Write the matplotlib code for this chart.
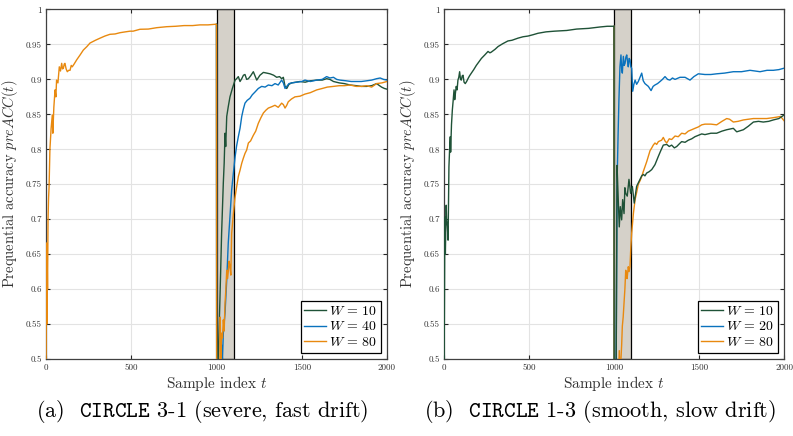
import numpy as np
import matplotlib
matplotlib.use("Agg")
import matplotlib.pyplot as plt
from matplotlib.ticker import FixedLocator, FuncFormatter

# computer modern look
plt.rcParams['font.family'] = 'cmr10'
plt.rcParams['mathtext.fontset'] = 'cm'
plt.rcParams['axes.formatter.use_mathtext'] = True

# ---- data ----
# (a) CIRCLE 3-1 : shared curve before the drift
t_pre_a = [0, 3, 5, 7, 9, 12, 15, 18, 23, 30, 37, 40, 46, 53, 58, 62, 70, 78, 85, 92, 97, 102, 107, 111,
           118, 125, 133, 141, 148, 154, 165, 180, 200, 219, 240, 258, 290, 317, 345, 375, 405, 434, 465,
           493, 511, 551, 600, 650, 708, 760, 810, 860, 903, 950, 1000]
acc_pre_a = [0.45, 0.666, 0.55, 0.64, 0.60, 0.70, 0.73, 0.746, 0.80, 0.83, 0.849, 0.823, 0.86, 0.885, 0.875,
             0.899, 0.895, 0.918, 0.912, 0.923, 0.915, 0.916, 0.922, 0.923, 0.915, 0.911, 0.913, 0.913, 0.92,
             0.918, 0.922, 0.928, 0.935, 0.942, 0.947, 0.952, 0.956, 0.959, 0.962, 0.9645, 0.965, 0.9668,
             0.968, 0.969, 0.969, 0.9717, 0.972, 0.974, 0.9754, 0.976, 0.977, 0.977, 0.978, 0.978, 0.979]

t_a_w10 = [1001, 1010, 1020, 1030, 1040, 1045, 1050, 1054, 1060, 1069, 1079, 1093, 1109, 1118, 1128, 1138,
           1148, 1158, 1167, 1177, 1187, 1200, 1216, 1226, 1236, 1255, 1275, 1295, 1314, 1335, 1353, 1370,
           1382, 1392, 1402, 1412, 1425, 1441, 1465, 1490, 1520, 1550, 1588, 1620, 1646, 1665, 1686, 1720,
           1750, 1783, 1820, 1850, 1881, 1910, 1939, 1968, 1985, 2000]
acc_a_w10 = [0.45, 0.50, 0.584, 0.68, 0.752, 0.78, 0.823, 0.804, 0.847, 0.861, 0.875, 0.887, 0.899, 0.901,
             0.904, 0.897, 0.901, 0.906, 0.907, 0.900, 0.901, 0.905, 0.911, 0.905, 0.899, 0.906, 0.910, 0.909,
             0.908, 0.906, 0.903, 0.904, 0.901, 0.903, 0.890, 0.887, 0.893, 0.895, 0.896, 0.897, 0.896, 0.898,
             0.899, 0.899, 0.901, 0.900, 0.897, 0.895, 0.894, 0.892, 0.891, 0.890, 0.890, 0.891, 0.894, 0.889,
             0.887, 0.886]

t_a_w40 = [1001, 1025, 1030, 1035, 1040, 1050, 1060, 1069, 1079, 1089, 1099, 1109, 1118, 1128, 1138, 1148,
           1157, 1167, 1180, 1196, 1210, 1226, 1245, 1265, 1285, 1304, 1325, 1343, 1362, 1382, 1392, 1402,
           1412, 1425, 1441, 1470, 1500, 1519, 1550, 1588, 1620, 1646, 1665, 1686, 1705, 1724, 1760, 1790,
           1822, 1850, 1881, 1910, 1939, 1960, 1980, 2000]
acc_a_w40 = [0.45, 0.45, 0.52, 0.50, 0.537, 0.566, 0.613, 0.666, 0.704, 0.742, 0.766, 0.789, 0.805, 0.818,
             0.830, 0.847, 0.857, 0.866, 0.870, 0.873, 0.878, 0.882, 0.887, 0.890, 0.889, 0.892, 0.891, 0.894,
             0.892, 0.899, 0.895, 0.887, 0.890, 0.894, 0.895, 0.896, 0.897, 0.899, 0.897, 0.899, 0.900, 0.904,
             0.902, 0.903, 0.900, 0.899, 0.898, 0.897, 0.897, 0.897, 0.898, 0.899, 0.901, 0.902, 0.900, 0.899]

t_a_w80 = [1001, 1015, 1020, 1022, 1025, 1030, 1035, 1040, 1045, 1050, 1055, 1060, 1065, 1069, 1074, 1079,
           1084, 1089, 1099, 1108, 1118, 1128, 1138, 1148, 1157, 1167, 1177, 1187, 1200, 1216, 1230, 1245,
           1260, 1275, 1290, 1304, 1325, 1343, 1362, 1382, 1392, 1402, 1412, 1421, 1440, 1460, 1490, 1519,
           1550, 1588, 1620, 1650, 1686, 1720, 1750, 1783, 1820, 1850, 1881, 1910, 1939, 1970, 2000]
acc_a_w80 = [0.45, 0.45, 0.50, 0.56, 0.50, 0.537, 0.53, 0.556, 0.54, 0.58, 0.60, 0.627, 0.615, 0.625, 0.640,
             0.632, 0.62, 0.68, 0.708, 0.730, 0.746, 0.761, 0.770, 0.780, 0.787, 0.794, 0.799, 0.809, 0.812,
             0.820, 0.826, 0.837, 0.845, 0.852, 0.856, 0.859, 0.861, 0.863, 0.860, 0.866, 0.864, 0.859, 0.863,
             0.868, 0.872, 0.875, 0.876, 0.879, 0.881, 0.885, 0.887, 0.889, 0.890, 0.891, 0.891, 0.892, 0.890,
             0.890, 0.891, 0.889, 0.894, 0.895, 0.897]

# (b) CIRCLE 1-3 : shared curve before the drift
t_pre_b = [0, 3, 5, 8, 10, 13, 15, 20, 24, 29, 33, 37, 39, 44, 49, 54, 59, 63, 68, 72, 77, 82, 87, 92, 97,
           102, 107, 112, 118, 125, 133, 141, 150, 161, 175, 190, 205, 220, 240, 259, 270, 278, 300, 318,
           345, 376, 400, 435, 465, 494, 525, 553, 600, 650, 722, 780, 850, 918, 960, 1000]
acc_pre_b = [0.45, 0.60, 0.703, 0.65, 0.68, 0.72, 0.70, 0.69, 0.670, 0.775, 0.80, 0.818, 0.796, 0.835, 0.856,
             0.870, 0.885, 0.871, 0.882, 0.890, 0.885, 0.899, 0.903, 0.911, 0.900, 0.899, 0.905, 0.906, 0.896,
             0.894, 0.897, 0.901, 0.905, 0.909, 0.914, 0.920, 0.925, 0.930, 0.935, 0.940, 0.938, 0.939, 0.943,
             0.947, 0.951, 0.955, 0.956, 0.959, 0.961, 0.962, 0.964, 0.966, 0.968, 0.969, 0.970, 0.972, 0.973,
             0.975, 0.976, 0.976]

t_b_w10 = [1001, 1012, 1018, 1025, 1031, 1037, 1045, 1051, 1059, 1064, 1069, 1078, 1088, 1098, 1108, 1119,
           1126, 1133, 1143, 1153, 1163, 1173, 1182, 1192, 1207, 1222, 1241, 1261, 1275, 1290, 1310, 1325,
           1339, 1355, 1369, 1385, 1398, 1418, 1437, 1457, 1476, 1496, 1516, 1535, 1570, 1604, 1635, 1663,
           1702, 1722, 1761, 1790, 1820, 1850, 1878, 1910, 1937, 1970, 2000]
acc_b_w10 = [0.45, 0.45, 0.777, 0.728, 0.689, 0.718, 0.699, 0.728, 0.708, 0.745, 0.737, 0.733, 0.757, 0.737,
             0.747, 0.723, 0.735, 0.747, 0.752, 0.757, 0.762, 0.764, 0.762, 0.766, 0.768, 0.771, 0.778, 0.790,
             0.798, 0.806, 0.807, 0.804, 0.806, 0.802, 0.804, 0.808, 0.811, 0.810, 0.813, 0.815, 0.818, 0.820,
             0.822, 0.821, 0.823, 0.823, 0.826, 0.828, 0.830, 0.825, 0.828, 0.833, 0.839, 0.840, 0.839, 0.840,
             0.842, 0.844, 0.849]

t_b_w20 = [1001, 1012, 1018, 1024, 1029, 1035, 1041, 1045, 1049, 1055, 1060, 1065, 1070, 1075, 1080, 1084,
           1089, 1094, 1099, 1104, 1110, 1117, 1124, 1133, 1143, 1153, 1163, 1172, 1182, 1192, 1202, 1210,
           1218, 1230, 1241, 1256, 1271, 1285, 1300, 1315, 1329, 1344, 1359, 1388, 1418, 1447, 1470, 1496,
           1535, 1570, 1604, 1650, 1702, 1750, 1800, 1830, 1859, 1900, 1937, 1970, 2000]
acc_b_w20 = [0.45, 0.45, 0.751, 0.82, 0.871, 0.918, 0.935, 0.915, 0.909, 0.933, 0.920, 0.923, 0.932, 0.935,
             0.925, 0.918, 0.930, 0.928, 0.918, 0.916, 0.883, 0.893, 0.899, 0.893, 0.897, 0.903, 0.909, 0.898,
             0.894, 0.892, 0.890, 0.887, 0.884, 0.890, 0.892, 0.894, 0.897, 0.900, 0.904, 0.900, 0.899, 0.902,
             0.900, 0.903, 0.903, 0.899, 0.904, 0.908, 0.907, 0.907, 0.908, 0.909, 0.911, 0.911, 0.913, 0.912,
             0.911, 0.913, 0.913, 0.914, 0.916]

t_b_w80 = [1001, 1025, 1031, 1036, 1041, 1045, 1049, 1054, 1059, 1064, 1069, 1073, 1077, 1084, 1089, 1094,
           1099, 1104, 1114, 1124, 1133, 1143, 1153, 1163, 1172, 1182, 1192, 1202, 1212, 1222, 1231, 1241,
           1251, 1261, 1270, 1280, 1290, 1300, 1310, 1325, 1339, 1359, 1378, 1398, 1418, 1437, 1457, 1476,
           1496, 1516, 1535, 1570, 1604, 1635, 1663, 1680, 1702, 1730, 1761, 1790, 1820, 1860, 1898, 1930,
           1957, 1980, 2000]
acc_b_w80 = [0.45, 0.45, 0.512, 0.47, 0.50, 0.52, 0.547, 0.56, 0.58, 0.60, 0.627, 0.62, 0.615, 0.632, 0.625,
             0.632, 0.66, 0.680, 0.708, 0.728, 0.738, 0.750, 0.755, 0.761, 0.768, 0.775, 0.782, 0.790, 0.798,
             0.802, 0.806, 0.809, 0.807, 0.811, 0.812, 0.813, 0.817, 0.812, 0.809, 0.815, 0.814, 0.819, 0.818,
             0.823, 0.822, 0.826, 0.828, 0.830, 0.832, 0.835, 0.836, 0.836, 0.835, 0.840, 0.844, 0.843, 0.839,
             0.840, 0.842, 0.843, 0.844, 0.844, 0.844, 0.845, 0.846, 0.847, 0.841]

drift_start = 1000
drift_end = 1100
x_ticks = [0, 500, 1000, 1500, 2000]
y_ticks = [0.5, 0.55, 0.6, 0.65, 0.7, 0.75, 0.8, 0.85, 0.9, 0.95, 1.0]

green = '#1f5237'
blue = '#0a72bd'
orange = '#e8890f'


def draw_panel(ax, t_pre, acc_pre, series, top):
    # grey band for the drift window
    ax.axvspan(drift_start, drift_end, facecolor='#d5d1c9', edgecolor='black', lw=0.9, zorder=1)
    # before the drift all runs coincide -> only the top one shows
    for i, (t_post, acc_post, color, label) in enumerate(series):
        if i == top:
            t = np.concatenate([t_pre, t_post])
            acc = np.concatenate([acc_pre, acc_post])
            z = 4
        else:
            t = np.concatenate([t_pre[-1:], t_post])
            acc = np.concatenate([acc_pre[-1:], acc_post])
            z = 3
        ax.plot(t, acc, color=color, lw=1.0, label=label, zorder=z)
    ax.set_xlim(0, 2000)
    ax.set_ylim(0.5, 1.0)
    ax.xaxis.set_major_locator(FixedLocator(x_ticks))
    ax.yaxis.set_major_locator(FixedLocator(y_ticks))
    ax.xaxis.set_major_formatter(FuncFormatter(lambda v, p: '%g' % v))
    ax.yaxis.set_major_formatter(FuncFormatter(lambda v, p: '%g' % v))
    ax.tick_params(direction='in', length=3, width=0.8, labelsize=6.5, top=True, right=True,
                   color='0.15', labelcolor='0.2', pad=3)
    ax.grid(True, color='#e3e3e3', lw=0.8, zorder=0)
    ax.set_axisbelow(True)
    for s in ax.spines.values():
        s.set_color('0.25')
        s.set_linewidth(0.9)
    ax.set_xlabel('Sample index $t$', fontsize=11, labelpad=2, color='0.2')
    ax.set_ylabel('Prequential accuracy $preACC(t)$', fontsize=10.5, labelpad=4, color='0.2')
    leg = ax.legend(loc='lower right', fontsize=10, fancybox=False, edgecolor='black', framealpha=1,
                    borderaxespad=0.45, handlelength=1.6, handletextpad=0.2, labelspacing=0.2,
                    borderpad=0.25)
    leg.get_frame().set_linewidth(0.9)


fig = plt.figure(figsize=(7.93, 4.36), dpi=100)
ax1 = fig.add_axes([46 / 793, 77 / 436, 341 / 793, 349.5 / 436])
ax2 = fig.add_axes([444 / 793, 77 / 436, 340 / 793, 349.5 / 436])

series_a = [(t_a_w10, acc_a_w10, green, '$W\\,=\\,10$'),
            (t_a_w40, acc_a_w40, blue, '$W\\,=\\,40$'),
            (t_a_w80, acc_a_w80, orange, '$W\\,=\\,80$')]
series_b = [(t_b_w10, acc_b_w10, green, '$W\\,=\\,10$'),
            (t_b_w20, acc_b_w20, blue, '$W\\,=\\,20$'),
            (t_b_w80, acc_b_w80, orange, '$W\\,=\\,80$')]

draw_panel(ax1, t_pre_a, acc_pre_a, series_a, top=2)
draw_panel(ax2, t_pre_b, acc_pre_b, series_b, top=0)

# sub captions
fig.text(202 / 793, 1 - 411 / 436, '(a)  $\\mathtt{CIRCLE}$ 3-1 (severe, fast drift)',
         ha='center', va='center', fontsize=16)
fig.text(600 / 793, 1 - 411 / 436, '(b)  $\\mathtt{CIRCLE}$ 1-3 (smooth, slow drift)',
         ha='center', va='center', fontsize=16)

fig.savefig('out.png', dpi=100)
